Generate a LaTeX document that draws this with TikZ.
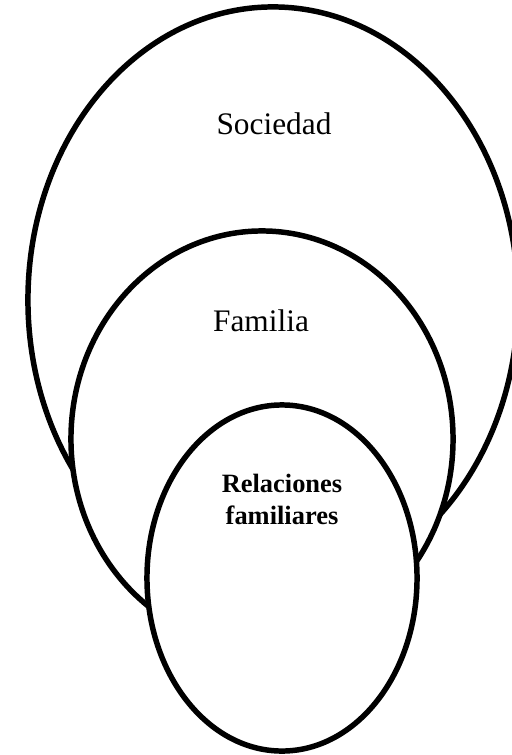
\documentclass[tikz,border=0pt]{standalone}
\usepackage{fontspec}
\setmainfont{Liberation Serif}
\usetikzlibrary{shapes.geometric}
\tikzset{
  ring/.style={ellipse,draw=black,fill=white,line width=3.9pt,inner sep=0pt},
  ringtxt/.style={font=\fontsize{22.3}{26}\selectfont,inner sep=0pt},
  boldtxt/.style={font=\fontsize{18.8}{22.7}\selectfont\bfseries,align=center,inner sep=0pt},
}
\begin{document}
\begin{tikzpicture}[x=0.025cm,y=-0.025cm]
        \useasboundingbox (0,0) rectangle (512,755);
        \node[ring,minimum width=12.25cm,minimum height=14.65cm] (soc) at (273,300) {};
        \node[ring,minimum width=9.55cm,minimum height=10.4cm] (fam) at (262,439) {};
        \node[ring,minimum width=6.75cm,minimum height=8.65cm] (rel) at (282,578) {};
        \node[ringtxt] (tsoc) at (274,124) {Sociedad};
        \node[ringtxt] (tfam) at (261,321) {Familia};
        \node[boldtxt] (trel) at (282,499) {Relaciones\\familiares};
      \end{tikzpicture}
\end{document}
